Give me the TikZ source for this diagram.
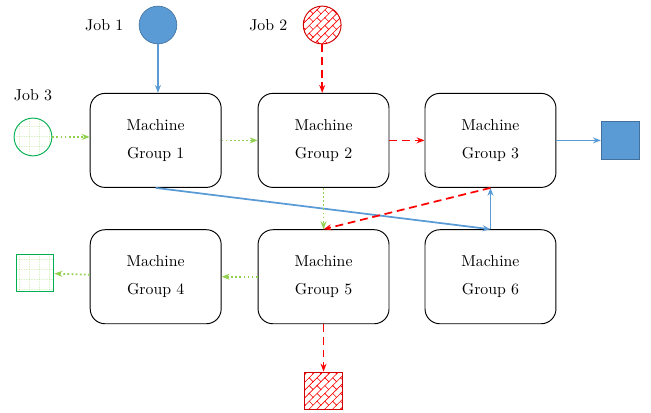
\documentclass[tikz,border=0pt]{standalone}
\usepackage{tikz}
\usetikzlibrary{arrows.meta, patterns, patterns.meta, positioning}

\definecolor{jobblue}{HTML}{5B9BD5}
\definecolor{jobblueline}{HTML}{41719C}
\definecolor{jobred}{HTML}{FF0000}
\definecolor{jobredline}{HTML}{D00000}
\definecolor{jobgreen}{HTML}{92D050}
\definecolor{jobgreenline}{HTML}{00B050}

\tikzdeclarepattern{
    name = slantbricks,
    type = uncolored,
    bounding box = {(-0.5pt,-0.5pt) and (7.5pt,7.5pt)},
    tile size = {(7pt,7pt)},
    tile transformation = {rotate = 45},
    code = {
        \draw[line width = 0.4pt] (-0.5pt,0pt) -- (7.5pt,0pt) (-0.5pt,3.5pt) -- (7.5pt,3.5pt)
            (0pt,0pt) -- (0pt,3.5pt) (3.5pt,3.5pt) -- (3.5pt,7pt);
    }
}
\tikzdeclarepattern{
    name = dotgrid,
    type = uncolored,
    bounding box = {(0pt,0pt) and (6pt,6pt)},
    tile size = {(6pt,6pt)},
    code = {
        \draw[line width = 0.5pt, dash pattern = on 0.8pt off 0.8pt] (0pt,0pt) -- (6pt,0pt) (0pt,0pt) -- (0pt,6pt);
    }
}

\begin{document}
\begin{tikzpicture}[
    machine/.style = {draw, semithick, rounded corners = 0.33cm, align = center,
        minimum width = 2.91cm, minimum height = 2.09cm},
    jobone/.style = {draw = jobblueline, fill = jobblue},
    jobtwo/.style = {draw = jobredline, semithick, pattern = slantbricks, pattern color = jobred},
    jobthree/.style = {draw = jobgreenline, semithick, pattern = dotgrid, pattern color = jobgreen},
    bluearrow/.style = {draw = jobblue, line width = 1.1pt, -{Stealth[length = 5pt]}},
    redarrow/.style = {draw = jobred, line width = 1.1pt, dash pattern = on 5pt off 3pt, -{Stealth[length = 5pt]}},
    greenarrow/.style = {draw = jobgreen, line width = 1.1pt, dash pattern = on 1.1pt off 1.5pt, -{Stealth[length = 5pt]}}
]
    \useasboundingbox (0, 0) rectangle (14.467, -9.178);

    % machine groups
    \node[machine] (mg1) at (3.46, -3.12) {Machine\\[6pt]Group 1};
    \node[machine] (mg2) at (7.19, -3.12) {Machine\\[6pt]Group 2};
    \node[machine] (mg3) at (10.9, -3.12) {Machine\\[6pt]Group 3};
    \node[machine] (mg4) at (3.46, -6.15) {Machine\\[6pt]Group 4};
    \node[machine] (mg5) at (7.19, -6.15) {Machine\\[6pt]Group 5};
    \node[machine] (mg6) at (10.9, -6.15) {Machine\\[6pt]Group 6};

    % jobs in
    \node[circle, minimum size = 0.84cm, jobone] (job1) at (3.51, -0.556) {};
    \node[left = 0.22cm of job1] (job1label) {Job 1};
    \node[circle, minimum size = 0.84cm, jobtwo] (job2) at (7.16, -0.556) {};
    \node[left = 0.22cm of job2] (job2label) {Job 2};
    \node[circle, minimum size = 0.84cm, jobthree] (job3) at (0.733, -3.044) {};
    \node[above = 0.25cm of job3] (job3label) {Job 3};

    % jobs out
    \node[minimum size = 0.84cm, jobone] (out1) at (13.78, -3.12) {};
    \node[minimum size = 0.84cm, jobthree] (out3) at (0.778, -6.067) {};
    \node[minimum size = 0.84cm, jobtwo] (out2) at (7.19, -8.689) {};

    % job 1
    \draw[bluearrow] (job1) -- (job1 |- mg1.north);
    \draw[bluearrow] (mg1.south) -- (mg6.north);
    \draw[bluearrow] (mg6.north) -- (mg3.south);
    \draw[bluearrow] (mg3) -- (out1);
    % job 2
    \draw[redarrow] (job2) -- (job2 |- mg2.north);
    \draw[redarrow] (mg2) -- (mg3);
    \draw[redarrow] (mg3.south) -- (mg5.north);
    \draw[redarrow] (mg5) -- (out2);
    % job 3
    \draw[greenarrow] (job3) -- (job3 -| mg1.west);
    \draw[greenarrow] (mg1) -- (mg2);
    \draw[greenarrow] (mg2) -- (mg5);
    \draw[greenarrow] (mg5) -- (mg4);
    \draw[greenarrow] (mg4) -- (out3);
\end{tikzpicture}
\end{document}
